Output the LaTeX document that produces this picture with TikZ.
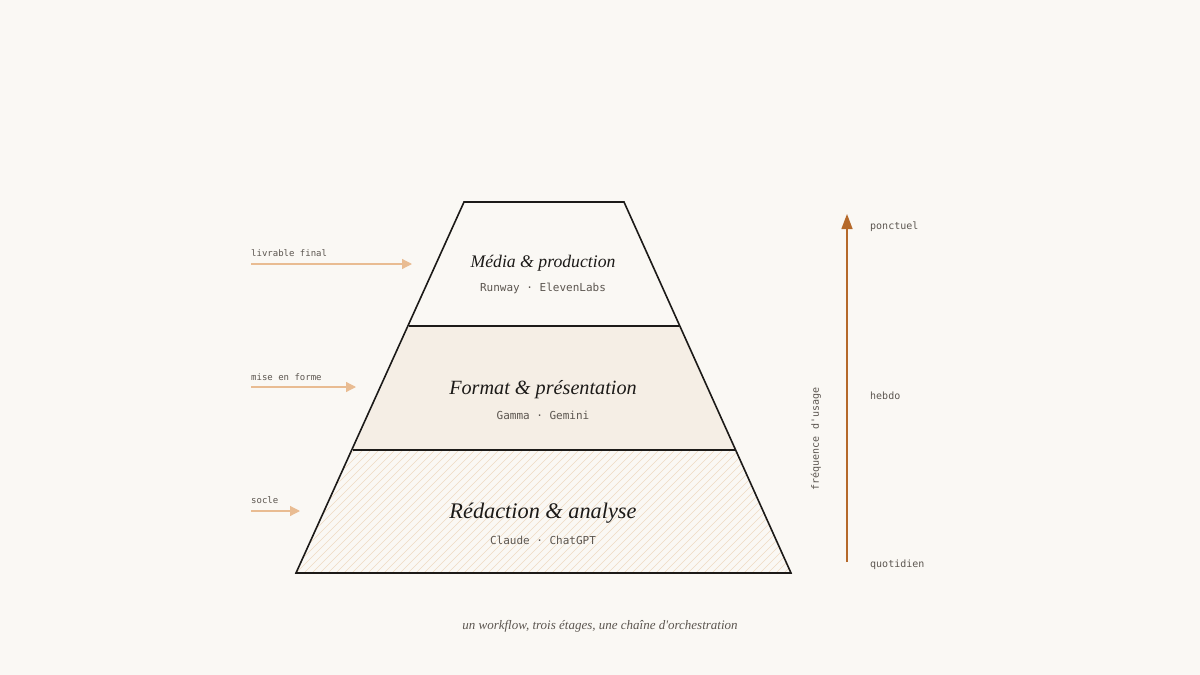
\documentclass[tikz,border=0pt]{standalone}
\usepackage{fontspec}
\setmonofont{DejaVu Sans Mono}
\newfontfamily\display{Liberation Serif}
\usetikzlibrary{arrows.meta}
\definecolor{paper}{HTML}{FAF8F4}
\definecolor{band}{HTML}{F5EEE5}
\definecolor{hatch}{HTML}{EEDAC3}
\definecolor{peach}{HTML}{E9BC92}
\definecolor{rust}{HTML}{B5692A}
\definecolor{ink}{HTML}{1C1A18}
\definecolor{grey}{HTML}{5C5650}

\begin{document}
\begin{tikzpicture}[x=1pt,y=-1pt,every node/.style={inner sep=0pt},
        tier/.style={font=\display\fontsize{#1}{#1}\selectfont\itshape,text=ink},
        tools/.style={font=\fontsize{11}{13}\selectfont\ttfamily,text=grey},
        side/.style={font=\fontsize{9}{11}\selectfont\ttfamily,text=grey,anchor=west},
        level/.style={font=\fontsize{10}{12}\selectfont\ttfamily,text=grey,anchor=west},
        feed/.style={peach,line width=1.2pt,-{Triangle[length=10pt,width=10pt]}},
        edge/.style={ink,line width=1.6pt,line join=miter}]
        \useasboundingbox (0,0) rectangle (1200,675);
        \fill[paper] (0,0) rectangle (1200,675);

        % pyramid bands
        \fill[band] (409,326) -- (679,326) -- (735,450) -- (353,450) -- cycle;
        \begin{scope}
            \clip (353,450) -- (735,450) -- (791,573) -- (296,573) -- cycle;
            \foreach \x in {160,168,...,800}
                \draw[hatch,line width=0.6pt] (\x,573) -- ++(130,-130);
        \end{scope}
        \draw[edge] (464,202) -- (624,202) -- (791,573) -- (296,573) -- cycle;
        \draw[edge] (409,326) -- (679,326);
        \draw[edge] (353,450) -- (735,450);

        % tier labels
        \node[tier=17.7] at (543,263) (media) {Média \& production};
        \node[tier=20.2] at (543,390) (format) {Format \& présentation};
        \node[tier=22.3] at (543,513) (redaction) {Rédaction \& analyse};
        \node[tools] at (543,288) (mediatools) {Runway · ElevenLabs};
        \node[tools] at (543,415) (formattools) {Gamma · Gemini};
        \node[tools] at (543,540) (redactiontools) {Claude · ChatGPT};

        % left feeds
        \node[side] at (251,253) (final) {livrable final};
        \node[side] at (251,377) (forme) {mise en forme};
        \node[side] at (251,500) (socle) {socle};
        \coordinate (f1) at (251,264); \coordinate (t1) at (412,264);
        \coordinate (f2) at (251,387); \coordinate (t2) at (356,387);
        \coordinate (f3) at (251,511); \coordinate (t3) at (300,511);
        \draw[feed] (f1) -- (t1);
        \draw[feed] (f2) -- (t2);
        \draw[feed] (f3) -- (t3);

        % usage axis
        \coordinate (low) at (847,562);
        \coordinate (high) at (847,214);
        \draw[rust,line width=1.4pt,-{Triangle[length=15pt,width=11pt]}] (low) -- (high);
        \node[level] at (870,227) (ponctuel) {ponctuel};
        \node[level] at (870,396) (hebdo) {hebdo};
        \node[level] at (870,565) (quotidien) {quotidien};
        \node[level,anchor=center,rotate=90] at (816,439) (usage) {fréquence d'usage};

        \node[font=\display\fontsize{13}{15}\selectfont\itshape,text=grey] at (600,626) (caption)
            {un workflow, trois étages, une chaîne d'orchestration};
    \end{tikzpicture}
\end{document}
